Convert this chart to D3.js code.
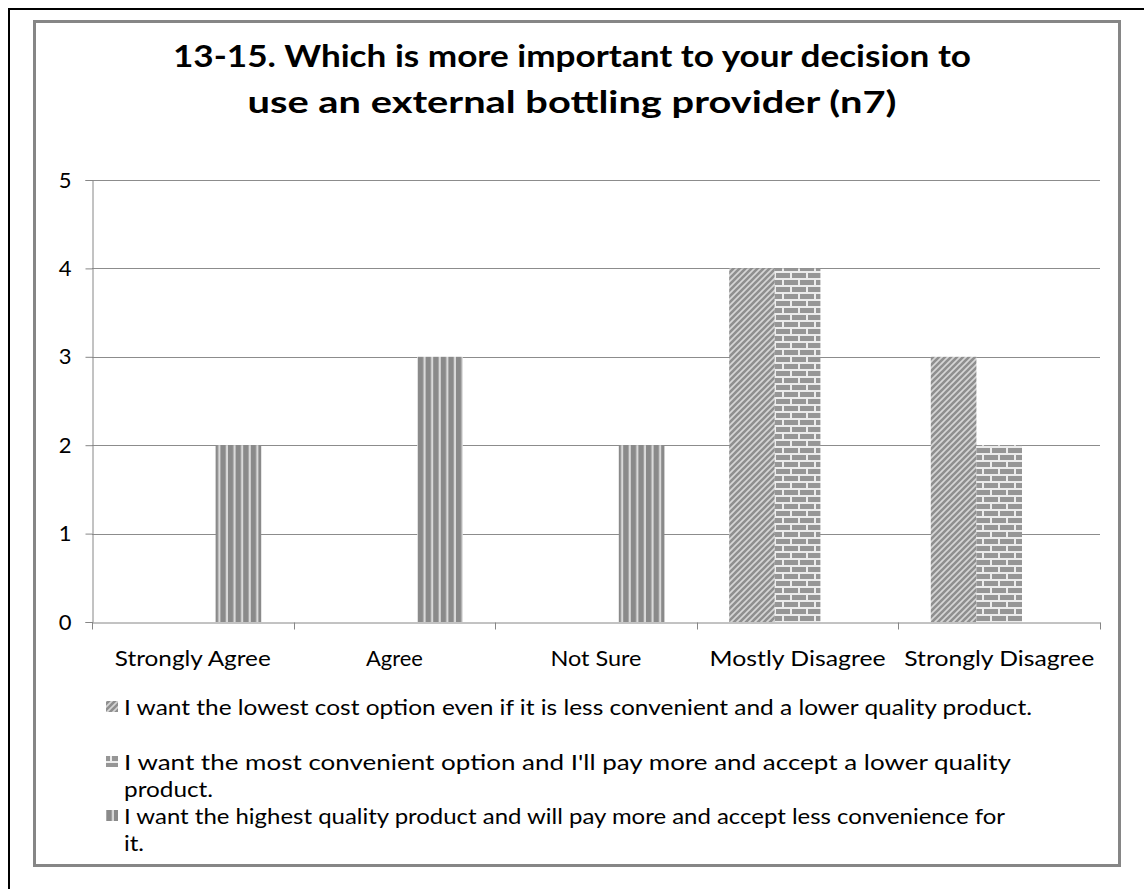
<!DOCTYPE html>
<html>
<head>
<meta charset="utf-8">
<script src="https://cdn.jsdelivr.net/npm/d3@7"></script>
<style>
  html, body { margin: 0; padding: 0; background: #fff; overflow: hidden; }
  svg { display: block; }
  text { font-family: Lato, "Open Sans", sans-serif; fill: #000; }
</style>
</head>
<body>
<svg id="chart" width="1144" height="889"></svg>
<script>
// Responses per answer category
const categories = ["Strongly Agree", "Agree", "Not Sure", "Mostly Disagree", "Strongly Disagree"];
const seriesNames = [
  "I want the lowest cost option even if it is less convenient and a lower quality product.",
  "I want the most convenient option and I'll pay more and accept a lower quality product.",
  "I want the highest quality product and will pay more and accept less convenience for it."
];
const lowestCost = [0, 0, 0, 4, 3];
const mostConvenient = [0, 0, 0, 4, 2];
const highestQuality = [2, 3, 2, 0, 0];
const yTicks = [0, 1, 2, 3, 4, 5];
const titleLines = [
  "13-15. Which is more important to your decision to",
  "use an external bottling provider (n7)"
];
// legend text as it wraps in the legend box
const legendLines = [
  ["I want the lowest cost option even if it is less convenient and a lower quality product."],
  ["I want the most convenient option and I'll pay more and accept a lower quality", "product."],
  ["I want the highest quality product and will pay more and accept less convenience for", "it."]
];

const seriesValues = [lowestCost, mostConvenient, highestQuality];

const svg = d3.select("#chart");
const defs = svg.append("defs");

// Fill patterns: wide diagonal, brick, wide vertical
const pDiag = defs.append("pattern").attr("id", "pat0")
  .attr("patternUnits", "userSpaceOnUse").attr("width", 6).attr("height", 6);
pDiag.append("rect").attr("width", 6).attr("height", 6).attr("fill", "#d6d6d6");
pDiag.append("path").attr("d", "M-1.5,1.5 L1.5,-1.5 M0,6 L6,0 M4.5,7.5 L7.5,4.5")
  .attr("stroke", "#8f8f8f").attr("stroke-width", 2.6);

const pBrick = defs.append("pattern").attr("id", "pat1")
  .attr("patternUnits", "userSpaceOnUse").attr("width", 16).attr("height", 14);
pBrick.append("rect").attr("width", 16).attr("height", 14).attr("fill", "#ececec");
pBrick.append("rect").attr("x", 0).attr("y", 0).attr("width", 14).attr("height", 5).attr("fill", "#969696");
pBrick.append("rect").attr("x", -8).attr("y", 7).attr("width", 14).attr("height", 5).attr("fill", "#969696");
pBrick.append("rect").attr("x", 8).attr("y", 7).attr("width", 14).attr("height", 5).attr("fill", "#969696");

const pVert = defs.append("pattern").attr("id", "pat2")
  .attr("patternUnits", "userSpaceOnUse").attr("width", 7.6).attr("height", 8);
pVert.append("rect").attr("width", 7.6).attr("height", 8).attr("fill", "#d9d9d9");
pVert.append("rect").attr("x", 0).attr("width", 5.4).attr("height", 8).attr("fill", "#8a8a8a");

// Outer frame: only its top and left edges fall inside the page
svg.append("path").attr("d", "M9,889 V9 H1144")
  .attr("fill", "none").attr("stroke", "#000").attr("stroke-width", 2);
svg.append("rect").attr("x", 34.5).attr("y", 21.5).attr("width", 1085).attr("height", 844)
  .attr("fill", "#fff").attr("stroke", "#868686").attr("stroke-width", 3);

// Title
const titleWidths = [798, 649];
svg.append("g").selectAll("text").data(titleLines).join("text")
  .attr("x", 572).attr("y", (d, i) => 67 + i * 46)
  .attr("text-anchor", "middle")
  .attr("font-size", 30).attr("font-weight", 700)
  .attr("textLength", (d, i) => titleWidths[i]).attr("lengthAdjust", "spacingAndGlyphs")
  .text(d => d);

// Scales
const plot = { left: 92, right: 1100, top: 180, bottom: 622 };
const x0 = d3.scaleBand().domain(categories).range([plot.left, plot.right]).padding(0);
const x1 = d3.scaleBand().domain(d3.range(3)).range([0, x0.bandwidth()])
  .paddingInner(0).paddingOuter(0.71);
const y = d3.scaleLinear().domain([0, 5]).range([plot.bottom, plot.top]);

// Gridlines
svg.append("g").selectAll("line").data(yTicks.filter(t => t > 0)).join("line")
  .attr("x1", plot.left).attr("x2", plot.right)
  .attr("y1", d => Math.round(y(d)) + 0.5).attr("y2", d => Math.round(y(d)) + 0.5)
  .attr("stroke", "#8c8c8c").attr("stroke-width", 1);

// Bars
const barG = svg.append("g");
seriesValues.forEach((vals, s) => {
  barG.append("g").selectAll("rect").data(vals.map((v, i) => ({ v, c: categories[i] })))
    .join("rect")
    .filter(d => d.v > 0)
    .attr("x", d => x0(d.c) + x1(s))
    .attr("width", x1.bandwidth())
    .attr("y", d => y(d.v))
    .attr("height", d => y(0) - y(d.v))
    .attr("fill", `url(#pat${s})`);
});

// Y axis
const yAxis = d3.axisLeft(y).tickValues(yTicks).tickSize(7).tickPadding(14).tickFormat(d3.format("d"));
const yG = svg.append("g").attr("transform", `translate(${plot.left + 0.5},0)`).call(yAxis);
yG.select(".domain").attr("stroke", "#868686");
yG.selectAll(".tick line").attr("stroke", "#868686");
yG.selectAll(".tick text").attr("font-size", 22).attr("font-family", "Lato, sans-serif").attr("fill", "#000");

// X axis
const catWidths = [156, 57, 91, 176, 190];
const xAxis = d3.axisBottom(x0).tickSize(0).tickPadding(29);
const xG = svg.append("g").attr("transform", `translate(0,${plot.bottom + 0.5})`).call(xAxis);
xG.select(".domain").attr("stroke", "#868686");
xG.selectAll(".tick text").attr("font-size", 21).attr("font-family", "Lato, sans-serif").attr("fill", "#000")
  .attr("textLength", (d, i) => catWidths[i]).attr("lengthAdjust", "spacingAndGlyphs");
const bounds = categories.map(c => x0(c)).concat([plot.right]);
xG.selectAll(".cat-tick").data(bounds).join("line").attr("class", "cat-tick")
  .attr("x1", d => Math.round(d) + 0.5).attr("x2", d => Math.round(d) + 0.5)
  .attr("y1", 0).attr("y2", 7).attr("stroke", "#868686");

// Legend
const legendWidths = [[908], [887, 89], [881, 20]];
const legendTop = [715, 770, 824];
const lg = svg.append("g");
legendLines.forEach((lines, s) => {
  const g = lg.append("g");
  g.append("rect").attr("x", 106).attr("y", legendTop[s] - 14).attr("width", 12).attr("height", 11)
    .attr("fill", `url(#pat${s})`);
  lines.forEach((line, j) => {
    g.append("text").attr("x", 124).attr("y", legendTop[s] + j * 27)
      .attr("font-size", 21)
      .attr("textLength", legendWidths[s][j]).attr("lengthAdjust", "spacingAndGlyphs")
      .text(line);
  });
});
</script>
</body>
</html>
